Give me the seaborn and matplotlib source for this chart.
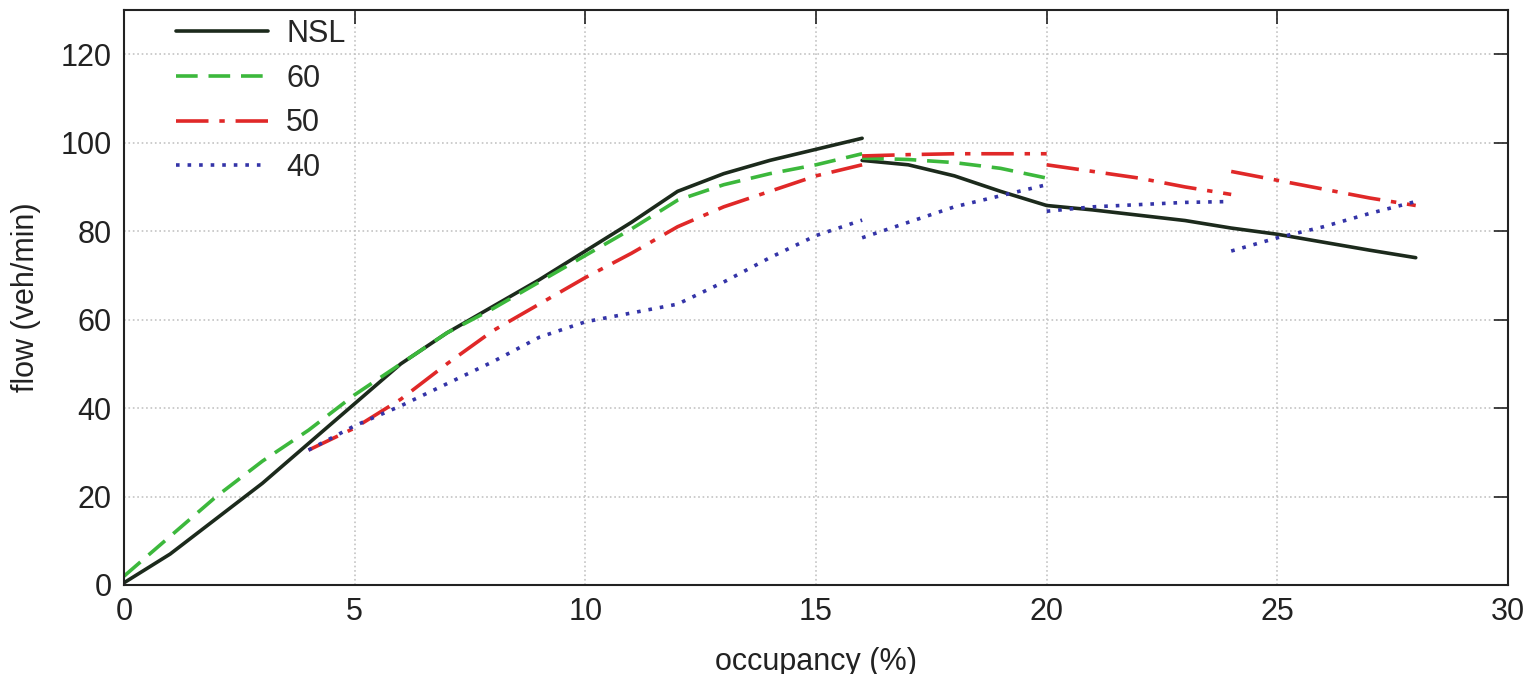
import matplotlib
matplotlib.use("Agg")
import matplotlib.pyplot as plt
import numpy as np
import pandas as pd
import seaborn as sns

# ---------------- data ----------------
series_order = ["NSL", "60", "50", "40"]

occ_0_16 = list(range(0, 17))
occ_4_16 = list(range(4, 17))
occ_16_20 = [16, 17, 18, 19, 20]
occ_20_24 = [20, 21, 22, 23, 24]
occ_24_28 = [24, 25, 26, 27, 28]
occ_16_28 = list(range(16, 29))

nsl_flow_a = [0.5, 7, 15, 23, 32, 41, 50, 57, 63, 69, 75.5, 82, 89, 93, 96, 98.5, 101]
nsl_flow_b = [96, 95, 92.5, 89, 85.8, 84.8, 83.6, 82.4, 80.7, 79.3, 77.5, 75.7, 74]

s60_flow_a = [2, 11, 20, 28, 35, 43, 50, 57, 62.5, 68.5, 74.5, 80.5, 87, 90.5, 93, 95, 97.5]
s60_flow_b = [96.5, 96.2, 95.5, 94.2, 92]

s50_flow_a = [30.5, 35.5, 42, 50, 57.5, 63.5, 69.5, 75, 81, 85.5, 89, 92.5, 95]
s50_flow_b = [97, 97.3, 97.5, 97.5, 97.5]
s50_flow_c = [95, 93.5, 92, 90, 88.3]
s50_flow_d = [93.5, 91.5, 89.5, 87.5, 85.8]

s40_flow_a = [30.5, 36, 40.5, 45.5, 50.5, 56, 59.5, 61.5, 63.5, 68.5, 74, 79, 82.5]
s40_flow_b = [78.5, 82, 85.5, 88, 90.5]
s40_flow_c = [84.5, 85.5, 86, 86.5, 86.7]
s40_flow_d = [75.5, 78.5, 81, 84, 86.7]

x_ticks = [0, 5, 10, 15, 20, 25, 30]
y_ticks = [0, 20, 40, 60, 80, 100, 120]

segments = [
    ("NSL", "a", occ_0_16, nsl_flow_a),
    ("NSL", "b", occ_16_28, nsl_flow_b),
    ("60", "a", occ_0_16, s60_flow_a),
    ("60", "b", occ_16_20, s60_flow_b),
    ("50", "a", occ_4_16, s50_flow_a),
    ("50", "b", occ_16_20, s50_flow_b),
    ("50", "c", occ_20_24, s50_flow_c),
    ("50", "d", occ_24_28, s50_flow_d),
    ("40", "a", occ_4_16, s40_flow_a),
    ("40", "b", occ_16_20, s40_flow_b),
    ("40", "c", occ_20_24, s40_flow_c),
    ("40", "d", occ_24_28, s40_flow_d),
]

rows = []
for name, seg, xs, ys in segments:
    for x, y in zip(xs, ys):
        rows.append({"speed": name, "seg": seg, "occupancy": x, "flow": y})
df = pd.DataFrame(rows)

# ---------------- style ----------------
sns.set_theme(style="white")
plt.rcParams["font.family"] = ["Liberation Sans", "DejaVu Sans"]

palette = {"NSL": "#1c2a1c", "60": "#3cb83c", "50": "#e02828", "40": "#3434a8"}
dashes = {"NSL": "", "60": (6, 3), "50": (9, 3, 1.5, 3), "40": (1, 2.2)}

fig = plt.figure(figsize=(15.36, 6.74), dpi=100)
ax = fig.add_axes([124 / 1536, 89 / 674, (1508 - 124) / 1536, (585 - 10) / 674])

sns.lineplot(
    data=df, x="occupancy", y="flow", hue="speed", style="speed",
    units="seg", estimator=None, sort=False,
    hue_order=series_order, style_order=series_order,
    palette=palette, dashes=dashes, linewidth=2.6, ax=ax,
)

ax.set_xlim(0, 30)
ax.set_ylim(0, 130)
ax.set_xticks(x_ticks)
ax.set_yticks(y_ticks)
ax.grid(True, linestyle=":", color="#c4c4c4", linewidth=1.2)
ax.set_axisbelow(True)
for sp in ax.spines.values():
    sp.set_visible(True)
    sp.set_color("#222222")
    sp.set_linewidth(1.5)
ax.tick_params(direction="in", length=10, width=1.2, top=True, right=True,
               labelsize=22, pad=9, colors="#222222")
ax.set_xlabel("occupancy (%)", fontsize=22, labelpad=14, color="#222222")
ax.set_ylabel("flow (veh/min)", fontsize=22, labelpad=14, color="#222222")

leg = ax.get_legend()
handles = leg.legend_handles
labels = [t.get_text() for t in leg.get_texts()]
leg.remove()
ax.legend(handles, labels, loc="upper left", frameon=False, fontsize=22,
          handlelength=3.0, handletextpad=0.6, labelspacing=0.48,
          borderaxespad=0.4, bbox_to_anchor=(0.02, 1.027))

fig.savefig("out.png", dpi=100)
